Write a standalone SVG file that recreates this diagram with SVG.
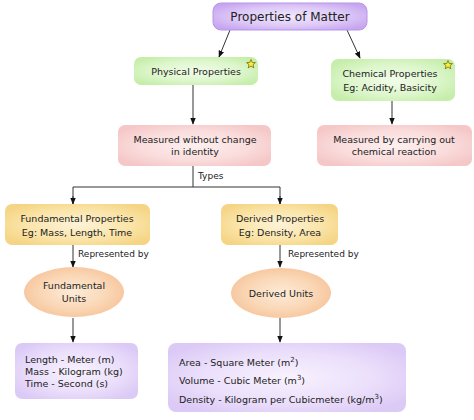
<svg xmlns="http://www.w3.org/2000/svg" width="474" height="420" viewBox="0 0 474 420">
<defs>
<radialGradient id="gPurple" cx="50%" cy="50%" r="60%"><stop offset="0" stop-color="#f1e8fd"/><stop offset="0.6" stop-color="#ddc8f7"/><stop offset="1" stop-color="#c7a6ef"/></radialGradient>
<radialGradient id="gGreen" cx="50%" cy="50%" r="60%"><stop offset="0" stop-color="#f1fce9"/><stop offset="0.6" stop-color="#ddf6cc"/><stop offset="1" stop-color="#c6eeaa"/></radialGradient>
<radialGradient id="gPink" cx="50%" cy="50%" r="60%"><stop offset="0" stop-color="#fdf0f0"/><stop offset="0.6" stop-color="#fadcdc"/><stop offset="1" stop-color="#f5c7c7"/></radialGradient>
<radialGradient id="gYellow" cx="50%" cy="50%" r="60%"><stop offset="0" stop-color="#fdf3d8"/><stop offset="0.6" stop-color="#fae4a8"/><stop offset="1" stop-color="#f5d585"/></radialGradient>
<radialGradient id="gOrange" cx="50%" cy="50%" r="55%"><stop offset="0" stop-color="#fdebd8"/><stop offset="0.6" stop-color="#fad7b6"/><stop offset="1" stop-color="#f6c49a"/></radialGradient>
<radialGradient id="gLav" cx="50%" cy="50%" r="60%"><stop offset="0" stop-color="#f8f2fe"/><stop offset="0.6" stop-color="#ebdffb"/><stop offset="1" stop-color="#dccaf6"/></radialGradient>
<marker id="arr" viewBox="0 0 10 10" refX="9" refY="5" markerWidth="7" markerHeight="7" orient="auto"><path d="M0,1 L10,5 L0,9 z" fill="#111"/></marker>
<path id="star" d="M0,-4.5 L1.3,-1.5 L4.4,-1.4 L2,0.7 L2.8,3.8 L0,2.1 L-2.8,3.8 L-2,0.7 L-4.4,-1.4 L-1.3,-1.5 z"/>
</defs>
<style>
text{font-family:"DejaVu Sans","Verdana",sans-serif;font-size:9.5px;fill:#222}
.t{font-size:12px}
.c{text-anchor:middle}
.lbl{font-size:9px}
.ln{stroke:#333;stroke-width:1;fill:none}
.st{fill:#f7ef3a;stroke:#6b5a00;stroke-width:0.7}
</style>
<g id="connectors">
<line class="ln" x1="230" y1="30" x2="219" y2="57" marker-end="url(#arr)"/>
<line class="ln" x1="347" y1="30" x2="360" y2="58" marker-end="url(#arr)"/>
<line class="ln" x1="193" y1="85" x2="193" y2="124" marker-end="url(#arr)"/>
<line class="ln" x1="392" y1="101" x2="392" y2="124" marker-end="url(#arr)"/>
<polyline class="ln" points="193,166 193,187"/>
<polyline class="ln" points="73,204 73,187 280,187 280,204" />
<line class="ln" x1="73" y1="196" x2="73" y2="204" marker-end="url(#arr)"/>
<line class="ln" x1="280" y1="196" x2="280" y2="204" marker-end="url(#arr)"/>
<line class="ln" x1="73" y1="245" x2="73" y2="267" marker-end="url(#arr)"/>
<line class="ln" x1="280" y1="245" x2="280" y2="267" marker-end="url(#arr)"/>
<line class="ln" x1="73" y1="318" x2="73" y2="342" marker-end="url(#arr)"/>
<line class="ln" x1="280" y1="318" x2="280" y2="342" marker-end="url(#arr)"/>
<text class="lbl" x="198" y="179">Types</text>
<text class="lbl" x="78" y="257">Represented by</text>
<text class="lbl" x="288" y="257">Represented by</text>
</g>
<g id="matter">
<rect x="213" y="3" width="154" height="27" rx="8" fill="url(#gPurple)" stroke="#b995ea" stroke-width="1"/>
<text class="t c" x="290" y="21">Properties of Matter</text>
</g>
<g id="physical">
<rect x="134" y="57" width="124" height="28" rx="7" fill="url(#gGreen)"/>
<text class="c" x="196" y="75">Physical Properties</text>
<use href="#star" x="251" y="64" class="st"/>
</g>
<g id="chemical">
<rect x="331" y="59" width="124" height="42" rx="7" fill="url(#gGreen)"/>
<text class="c" x="390" y="77">Chemical Properties</text>
<text class="c" x="390" y="91">Eg: Acidity, Basicity</text>
<use href="#star" x="448" y="65" class="st"/>
</g>
<g id="without-change">
<rect x="118" y="125" width="153" height="41" rx="7" fill="url(#gPink)"/>
<text class="c" x="195" y="143">Measured without change</text>
<text class="c" x="195" y="155">in identity</text>
</g>
<g id="by-reaction">
<rect x="317" y="125" width="155" height="41" rx="7" fill="url(#gPink)"/>
<text class="c" x="394" y="143">Measured by carrying out</text>
<text class="c" x="394" y="155">chemical reaction</text>
</g>
<g id="fundamental">
<rect x="5" y="204" width="145" height="41" rx="7" fill="url(#gYellow)"/>
<text class="c" x="77" y="222">Fundamental Properties</text>
<text class="c" x="77" y="236">Eg: Mass, Length, Time</text>
</g>
<g id="derived">
<rect x="221" y="204" width="117" height="41" rx="7" fill="url(#gYellow)"/>
<text class="c" x="280" y="222">Derived Properties</text>
<text class="c" x="280" y="236">Eg: Density, Area</text>
</g>
<g id="fund-units">
<ellipse cx="74" cy="292" rx="50" ry="25" fill="url(#gOrange)"/>
<text class="c" x="74" y="289">Fundamental</text>
<text class="c" x="74" y="302">Units</text>
</g>
<g id="derived-units">
<ellipse cx="281" cy="293" rx="50" ry="25" fill="url(#gOrange)"/>
<text class="c" x="281" y="297">Derived Units</text>
</g>
<g id="fund-list">
<rect x="15" y="343" width="123" height="56" rx="7" fill="url(#gLav)"/>
<text x="25" y="363">Length - Meter (m)</text>
<text x="25" y="375">Mass - Kilogram (kg)</text>
<text x="25" y="387">Time - Second (s)</text>
</g>
<g id="derived-list">
<rect x="168" y="343" width="238" height="69" rx="8" fill="url(#gLav)"/>
<text x="179" y="366">Area - Square Meter (m<tspan font-size="7" dy="-4">2</tspan><tspan dy="4">)</tspan></text>
<text x="179" y="384">Volume - Cubic Meter (m<tspan font-size="7" dy="-4">3</tspan><tspan dy="4">)</tspan></text>
<text x="179" y="403">Density - Kilogram per Cubicmeter (kg/m<tspan font-size="7" dy="-4">3</tspan><tspan dy="4">)</tspan></text>
</g>
</svg>
